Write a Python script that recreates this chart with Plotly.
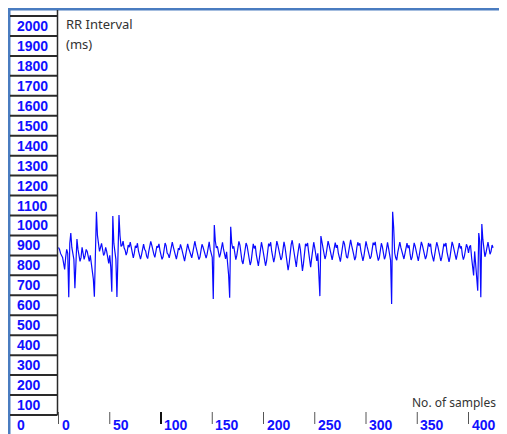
import plotly.graph_objects as go

# ---------------- data ----------------
rr_ms = [
    840, 830, 810, 800, 790, 760, 730, 790, 830, 810,
    590, 860, 912, 840, 800, 780, 636, 820, 882, 830,
    800, 770, 790, 840, 810, 780, 800, 830, 820, 790,
    770, 800, 760, 720, 681, 593, 830, 1019, 900, 850,
    820, 840, 860, 830, 800, 810, 840, 820, 790, 760,
    800, 740, 618, 997, 860, 820, 780, 591, 760, 1002,
    900, 845, 850, 872, 838, 826, 801, 818, 852, 841,
    866, 833, 806, 788, 812, 848, 838, 861, 822, 797,
    781, 803, 842, 856, 831, 822, 795, 784, 818, 845,
    870, 851, 816, 806, 790, 822, 846, 839, 858, 824,
    798, 780, 793, 829, 862, 848, 812, 805, 788, 812,
    852, 866, 843, 817, 792, 781, 806, 836, 828, 855,
    838, 806, 794, 771, 801, 842, 858, 836, 820, 797,
    788, 814, 849, 871, 845, 826, 803, 779, 792, 828,
    856, 842, 818, 811, 786, 806, 846, 868, 830, 808,
    790, 581, 952, 872, 838, 845, 812, 790, 808, 850,
    866, 831, 798, 782, 818, 775, 700, 588, 944, 861,
    834, 846, 807, 779, 801, 848, 870, 852, 806, 772,
    757, 796, 838, 862, 847, 821, 788, 752, 771, 826,
    858, 835, 848, 803, 768, 747, 785, 842, 866, 840,
    812, 781, 748, 772, 833, 859, 846, 866, 821, 783,
    766, 791, 838, 872, 851, 820, 808, 777, 790, 846,
    868, 842, 806, 772, 726, 758, 817, 854, 876, 836,
    795, 764, 742, 790, 845, 861, 829, 781, 722, 760,
    824, 858, 847, 862, 818, 770, 741, 786, 840, 866,
    838, 790, 772, 810, 720, 596, 897, 866, 838, 812,
    782, 801, 846, 872, 852, 821, 798, 777, 806, 851,
    864, 838, 852, 811, 784, 769, 804, 845, 873, 858,
    826, 792, 786, 813, 858, 878, 850, 831, 804, 776,
    792, 837, 866, 849, 861, 822, 789, 772, 798, 844,
    870, 846, 823, 808, 783, 794, 836, 864, 852, 868,
    826, 796, 774, 789, 833, 861, 843, 812, 781, 796,
    847, 865, 836, 800, 775, 556, 1019, 940, 812, 788,
    776, 815, 852, 867, 840, 821, 793, 782, 809, 848,
    861, 837, 851, 806, 777, 791, 832, 863, 845, 816,
    788, 773, 801, 846, 868, 851, 826, 812, 781, 797,
    838, 862, 844, 858, 812, 785, 770, 803, 842, 866,
    848, 817, 797, 772, 791, 837, 859, 846, 862, 818,
    787, 768, 793, 836, 868, 850, 822, 806, 779, 805,
    847, 862, 835, 846, 803, 779, 796, 838, 856, 841,
    812, 843, 851, 790, 752, 700, 820, 760, 700, 623,
    912, 870, 590, 957, 880, 826, 793, 812, 851, 866,
    838, 806, 820, 852, 838,
]
sample_index = list(range(len(rr_ms)))

y_tick_values = list(range(0, 2001, 100))
y_tick_labels = [str(v) for v in y_tick_values]
x_tick_values = [0, 50, 100, 150, 200, 250, 300, 350, 400]
x_tick_labels = [str(v) for v in x_tick_values]

y_title_lines = ["RR Interval", "(ms)"]
x_title = "No. of samples"

# ---------------- layout ----------------
# the page body has an 8px margin, so the figure starts at screen pixel (8, 8)
OFF = 8
W, H = 507 - OFF, 434 - OFF
X0_PX, PX_PER_SAMPLE = 58.5, 1.025
Y0_PX, PX_PER_MS = 415.0, 0.1995
x_range = [(OFF - X0_PX) / PX_PER_SAMPLE, (507 - X0_PX) / PX_PER_SAMPLE]
y_range = [(Y0_PX - 434) / PX_PER_MS, (Y0_PX - OFF) / PX_PER_MS]


def px_x(p):
    return (p - OFF) / W


def px_y(p):
    return 1 - (p - OFF) / H


BLUE_TXT = "#1010ff"
LABEL_FONT = dict(family="Liberation Sans", size=14, color=BLUE_TXT)

fig = go.Figure()
fig.add_trace(go.Scatter(
    x=sample_index, y=rr_ms, mode="lines",
    line=dict(color="#0a0aff", width=1.2),
    hoverinfo="skip", showlegend=False,
))

shapes = []
# blue frame
shapes.append(dict(type="line", xref="paper", yref="paper",
                   x0=px_x(8), x1=1, y0=px_y(9), y1=px_y(9),
                   line=dict(color="#4a7cc0", width=3)))
shapes.append(dict(type="line", xref="paper", yref="paper",
                   x0=px_x(9), x1=px_x(9), y0=px_y(8), y1=0,
                   line=dict(color="#4a7cc0", width=3)))
# left label column lines
for v in y_tick_values:
    shapes.append(dict(type="line", xref="paper", yref="y",
                       x0=px_x(10), x1=px_x(57.5), y0=v, y1=v,
                       line=dict(color="#2a2a2a", width=2)))
# vertical axis line
shapes.append(dict(type="line", xref="paper", yref="y",
                   x0=px_x(57.5), x1=px_x(57.5), y0=0, y1=(Y0_PX - 10) / PX_PER_MS,
                   line=dict(color="#2a2a2a", width=1.5)))
# x ticks
for n in x_tick_values:
    shapes.append(dict(type="line", xref="x", yref="paper",
                       x0=n, x1=n, y0=px_y(412), y1=px_y(424),
                       line=dict(color="#111" if n == 100 else "#555",
                                 width=2 if n == 100 else 1)))

annotations = []
for v, lab in zip(y_tick_values, y_tick_labels):
    annotations.append(dict(text=lab, xref="paper", yref="y",
                            x=px_x(15), y=v - 50, xanchor="left", yanchor="middle",
                            showarrow=False, font=dict(LABEL_FONT, weight="bold")))
for n, lab in zip(x_tick_values, x_tick_labels):
    annotations.append(dict(text=lab, xref="x", yref="paper",
                            x=n, y=px_y(425), xanchor="left", yanchor="middle",
                            xshift=1, showarrow=False,
                            font=dict(LABEL_FONT, weight="bold")))
for i, t in enumerate(y_title_lines):
    annotations.append(dict(text=t, xref="paper", yref="paper",
                            x=px_x(64), y=px_y(24 + 20 * i), xanchor="left", yanchor="middle",
                            showarrow=False,
                            font=dict(family="Noto Sans", size=13, color="#333333")))
annotations.append(dict(text=x_title, xref="paper", yref="paper",
                        x=px_x(410), y=px_y(402), xanchor="left", yanchor="middle",
                        showarrow=False,
                        font=dict(family="Noto Sans", size=12, color="#333333")))

fig.update_layout(
    width=W, height=H, autosize=False,
    margin=dict(l=0, r=0, t=0, b=0, pad=0),
    paper_bgcolor="white", plot_bgcolor="white",
    xaxis=dict(range=x_range, visible=False, domain=[0, 1], fixedrange=True),
    yaxis=dict(range=y_range, visible=False, domain=[0, 1], fixedrange=True),
    shapes=shapes, annotations=annotations, showlegend=False,
)

fig.write_html("out.html")
